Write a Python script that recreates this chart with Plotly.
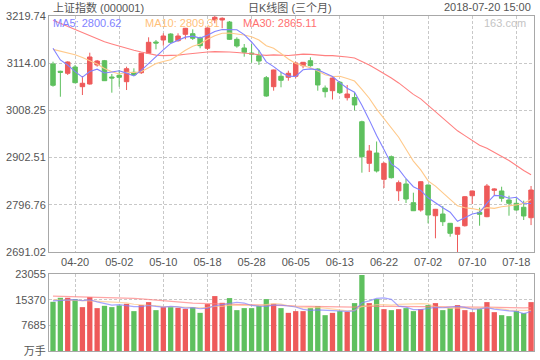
import plotly.graph_objects as go
import pandas as pd

dates = [
    "04-17", "04-18", "04-19", "04-20", "04-23", "04-24", "04-25", "04-26", "04-27",
    "05-02", "05-03", "05-04", "05-07", "05-08", "05-09", "05-10", "05-11", "05-14",
    "05-15", "05-16", "05-17", "05-18", "05-21", "05-22", "05-23", "05-24", "05-25",
    "05-28", "05-29", "05-30", "05-31",
    "06-01", "06-04", "06-05", "06-06", "06-07", "06-08", "06-11", "06-12", "06-13",
    "06-14", "06-15", "06-19", "06-20", "06-21", "06-22", "06-25", "06-26", "06-27",
    "06-28", "06-29",
    "07-02", "07-03", "07-04", "07-05", "07-06", "07-09", "07-10", "07-11", "07-12",
    "07-13", "07-16", "07-17", "07-18", "07-19", "07-20",
]

open_ = [3112.2, 3095.9, 3091.4, 3105.5, 3061.4, 3067.4, 3110.0, 3119.6, 3083.1,
         3086.9, 3072.6, 3093.6, 3092.7, 3136.2, 3161.5, 3166.0, 3179.4, 3164.4,
         3178.7, 3180.1, 3171.1, 3147.4, 3210.8, 3210.8, 3206.3, 3167.5, 3148.0,
         3136.8, 3130.8, 3081.5, 3061.4,
         3084.7, 3082.4, 3084.7, 3108.4, 3119.6, 3101.0, 3058.4, 3052.4, 3071.2,
         3036.7, 3037.2, 2982.9, 2889.7, 2912.8, 2853.9, 2904.5, 2828.1, 2843.4,
         2801.5, 2785.1,
         2841.1, 2772.3, 2776.1, 2755.3, 2730.7, 2749.9, 2817.1, 2779.9, 2770.1,
         2829.2, 2827.7, 2807.5, 2800.1, 2791.2, 2767.8]
high = [3117.4, 3097.2, 3118.3, 3110.0, 3085.3, 3137.5, 3121.2, 3121.2, 3089.8,
        3098.8, 3106.2, 3102.6, 3137.5, 3172.0, 3166.0, 3181.0, 3181.0, 3181.0,
        3193.0, 3189.9, 3173.4, 3193.5, 3219.74, 3216.8, 3208.5, 3172.0, 3157.0,
        3157.0, 3143.6, 3085.3, 3099.5,
        3095.0, 3097.2, 3117.4, 3116.7, 3127.2, 3102.6, 3064.0, 3082.0, 3074.1,
        3065.2, 3049.5, 2985.2, 2930.7, 2938.6, 2892.6, 2907.2, 2851.2, 2854.6,
        2823.9, 2849.5,
        2842.0, 2787.5, 2794.1, 2756.0, 2747.0, 2816.0, 2828.5, 2790.3, 2843.4,
        2833.7, 2837.3, 2817.1, 2811.3, 2806.0, 2838.9]
low = [3061.4, 3038.9, 3087.6, 3069.0, 3042.7, 3066.0, 3106.2, 3074.1, 3047.9,
       3061.4, 3053.9, 3085.3, 3089.8, 3134.6, 3145.1, 3153.2, 3158.6, 3162.2,
       3167.5, 3166.0, 3147.4, 3143.6, 3203.4, 3192.2, 3166.0, 3148.7, 3128.6,
       3115.1, 3110.0, 3038.9, 3052.4,
       3060.0, 3074.8, 3080.2, 3102.6, 3106.2, 3052.4, 3037.2, 3032.7, 3045.0,
       3030.4, 3008.0, 2868.7, 2870.2, 2869.1, 2834.4, 2855.7, 2805.3, 2800.8,
       2782.8, 2781.3,
       2755.3, 2721.7, 2749.3, 2725.3, 2691.02, 2748.0, 2798.6, 2749.9, 2769.0,
       2818.7, 2803.7, 2772.3, 2783.5, 2762.7, 2751.3]
close = [3064.5, 3093.6, 3116.7, 3070.3, 3069.0, 3127.9, 3118.9, 3074.8, 3080.9,
         3082.4, 3101.7, 3087.6, 3136.2, 3160.8, 3159.2, 3174.9, 3160.8, 3174.9,
         3192.2, 3169.8, 3153.2, 3192.9, 3216.8, 3214.6, 3167.5, 3152.5, 3138.4,
         3134.6, 3118.9, 3040.5, 3098.8,
         3075.7, 3091.4, 3114.4, 3116.0, 3108.4, 3065.2, 3050.2, 3080.8, 3047.9,
         3045.0, 3020.4, 2904.5, 2917.3, 2872.5, 2889.7, 2857.5, 2846.3, 2809.7,
         2783.5, 2848.5,
         2773.9, 2786.7, 2758.9, 2732.9, 2746.3, 2814.9, 2827.7, 2775.5, 2838.9,
         2832.2, 2811.3, 2800.1, 2785.1, 2771.7, 2829.9]
volume = [14729, 15932, 15932, 15541, 13136, 16142, 12836, 13527, 13136,
          13647, 14128, 11934, 13737, 14639, 12234, 13136, 13136, 12926,
          12625, 13136, 11423, 14038, 16443, 14429, 15842, 12234, 12836,
          12836, 13437, 15541, 14128,
          12836, 11423, 11934, 11934, 12836, 13437, 10731, 11423, 11934,
          11723, 14339, 22755, 14339, 15541, 12535, 12234, 12535, 12836,
          11934, 12535,
          13737, 14339, 12234, 12836, 13737, 12234, 11633, 12535, 14639,
          11633, 10731, 10431, 11934, 11333, 14639]

# moving-average values before enough in-window history exists
ma5_lead = [3147.4, 3121.2, 3110.0, 3095.0]
ma10_lead = [3145, 3141, 3138, 3133, 3127, 3120, 3112, 3102, 3095]
ma30_lead = [3210, 3203, 3197, 3190, 3183, 3176, 3169, 3162, 3157, 3152,
             3147, 3143, 3139, 3135, 3132, 3131, 3131, 3132, 3134, 3136,
             3138, 3139, 3140, 3140, 3139, 3138, 3137, 3135, 3133]
vma5_lead = [15000, 15200, 15300, 15400]
vma10_lead = [15300, 15300, 15250, 15200, 15100, 15000, 14850, 14700, 14550]
vma30_lead = [16450, 16400, 16350, 16300, 16250, 16200, 16150, 16100, 16000, 15950,
              15850, 15750, 15600, 15400, 15200, 14950, 14750, 14600, 14450, 14350,
              14250, 14200, 14150, 14100, 14050, 14000, 13950, 13900, 13870]

price_ticks = [2691.02, 2796.76, 2902.51, 3008.25, 3114.00, 3219.74]
vol_ticks = [0, 7685, 15370, 23055]
vol_tick_text = ["万手", "7685", "15370", "23055"]
date_ticks = ["04-20", "05-02", "05-10", "05-18", "05-28", "06-05",
              "06-13", "06-22", "07-02", "07-10", "07-18"]

title_left = "上证指数 (000001)"
title_mid = "日K线图 (三个月)"
title_right = "2018-07-20 15:00"
ma_labels = ["MA5: 2800.62", "MA10: 2809.31", "MA30: 2865.11"]
watermark = "163.com"

RED = "#EE5A5A"
GREEN = "#5EC05E"
C_MA5 = "#8282FF"
C_MA10 = "#FFC98A"
C_MA30 = "#FF8080"
GRID = "#C8C8C8"
FRAME = "#A8A8A8"
TXT = "#555555"
FONT = "Liberation Sans, Arial, Noto Sans CJK SC, sans-serif"


def moving(values, n, lead):
    s = pd.Series(values, dtype=float).rolling(n).mean().tolist()
    return list(lead) + s[len(lead):]


ma5 = moving(close, 5, ma5_lead)
ma10 = moving(close, 10, ma10_lead)
ma30 = moving(close, 30, ma30_lead)
vma5 = moving(volume, 5, vma5_lead)
vma10 = moving(volume, 10, vma10_lead)
vma30 = moving(volume, 30, vma30_lead)

bar_colors = [RED if c >= o else GREEN for o, c in zip(open_, close)]

fig = go.Figure()
fig.add_trace(go.Candlestick(
    x=dates, open=open_, high=high, low=low, close=close,
    increasing=dict(line=dict(color=RED, width=1), fillcolor=RED),
    decreasing=dict(line=dict(color=GREEN, width=1), fillcolor=GREEN),
    whiskerwidth=0, xaxis="x", yaxis="y", hoverinfo="skip",
))
for vals, col in [(ma30, C_MA30), (ma10, C_MA10), (ma5, C_MA5)]:
    fig.add_trace(go.Scatter(x=dates, y=vals, mode="lines",
                             line=dict(color=col, width=1.1),
                             xaxis="x", yaxis="y", hoverinfo="skip"))

fig.add_trace(go.Bar(x=dates, y=volume, marker=dict(color=bar_colors, line=dict(width=0)),
                     width=0.72, xaxis="x2", yaxis="y2", hoverinfo="skip"))
for vals, col in [(vma30, C_MA30), (vma10, C_MA10), (vma5, C_MA5)]:
    fig.add_trace(go.Scatter(x=dates, y=vals, mode="lines",
                             line=dict(color=col, width=1.2),
                             opacity=0.7,
                             xaxis="x2", yaxis="y2", hoverinfo="skip"))

L, R, T, B = 49, 6, 16, 9
W, H = 540, 360
pw, ph = W - L - R, H - T - B


def px(x):
    return (x - L) / pw


def py(y):
    return (H - B - y) / ph


axis_common = dict(showgrid=True, gridcolor=GRID, griddash="3px,2px", gridwidth=1,
                   showline=True, linecolor=FRAME, linewidth=1, mirror=True,
                   zeroline=False, ticks="", fixedrange=True, automargin=False,
                   tickfont=dict(family=FONT, size=11, color=TXT))

xr = [-0.544, 65.4]
fig.update_layout(
    width=W, height=H,
    margin=dict(l=L, r=R, t=T, b=B, autoexpand=False),
    paper_bgcolor="white", plot_bgcolor="white",
    showlegend=False, hovermode=False,
    boxgap=0.2, boxgroupgap=0.24,
    xaxis=dict(axis_common, type="category", categoryorder="array", categoryarray=dates,
               range=xr, anchor="y", tickvals=date_ticks, ticktext=date_ticks,
               rangeslider=dict(visible=False)),
    yaxis=dict(axis_common, domain=[(H - B - 252) / ph, 1], range=[price_ticks[0], price_ticks[-1]],
               tickvals=price_ticks, ticktext=["%.2f" % v for v in price_ticks], anchor="x"),
    xaxis2=dict(axis_common, type="category", categoryorder="array", categoryarray=dates,
                range=xr, anchor="y2", matches="x", tickvals=date_ticks, showticklabels=False),
    yaxis2=dict(axis_common, domain=[0, (H - B - 274) / ph], range=[0, vol_ticks[-1]],
                tickvals=vol_ticks, ticktext=vol_tick_text, anchor="x2"),
)

ann = []
def add_text(text, x, y, anchor, color, size=11):
    ann.append(dict(text=text, x=px(x), y=py(y), xref="paper", yref="paper",
                    xanchor=anchor, yanchor="middle", showarrow=False,
                    font=dict(family=FONT, size=size, color=color)))

add_text(title_left, 51, 7, "left", TXT)
add_text(title_mid, 290, 7, "center", TXT)
add_text(title_right, 533, 7, "right", TXT)
add_text(ma_labels[0], 51, 23, "left", C_MA5)
add_text(ma_labels[1], 143, 23, "left", "#FFBF7A")
add_text(ma_labels[2], 241, 23, "left", "#FF7070")
add_text(watermark, 528, 23, "right", "#C4C4C4")
fig.update_layout(annotations=ann)

fig.write_html("out.html", config={"displayModeBar": False},
               post_script="document.body.style.margin='0';")
